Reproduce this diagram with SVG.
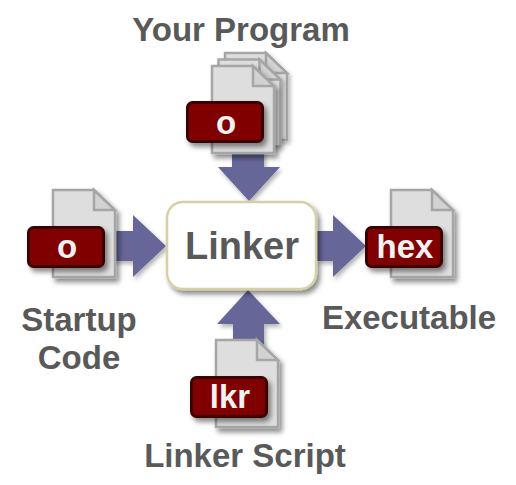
<svg xmlns="http://www.w3.org/2000/svg" xmlns:xlink="http://www.w3.org/1999/xlink" width="516" height="485" viewBox="0 0 516 485">
<style>
.doc{fill:#dedede;stroke:#a6a6a6;stroke-width:2.5;stroke-linejoin:miter}
.fold{fill:#d2d2d2;stroke:#a6a6a6;stroke-width:2.5}
.badge{fill:#800000;stroke:#3a0000;stroke-width:3}
.arrow{fill:#666699}
text{font-family:"Liberation Sans",Arial,sans-serif;font-weight:bold;text-anchor:middle}
.lbl{fill:#595959;font-size:33px}
.tag{fill:#f2f2f2;font-size:33px}
</style>
<defs>
<filter id="sh" x="-25%" y="-25%" width="160%" height="160%"><feDropShadow dx="3" dy="4" stdDeviation="2.5" flood-color="#000" flood-opacity=".45"/></filter>
<filter id="sh2" x="-25%" y="-25%" width="160%" height="160%"><feDropShadow dx="2" dy="3" stdDeviation="2" flood-color="#000" flood-opacity=".3"/></filter>
<g id="page"><path class="doc" d="M0 0H41L62 21V87H0Z"/><path class="fold" d="M41 0V20H62Z"/></g>
</defs>
<g id="connectors">
<path class="arrow" filter="url(#sh2)" d="M232 150H264V167H280L249 201L218 167H232Z"/>
<path class="arrow" filter="url(#sh2)" d="M110 231H133V215L166 246L133 277V261H110Z"/>
<path class="arrow" filter="url(#sh2)" d="M317 231H333V215L366 246L333 277V261H317Z"/>
<path class="arrow" filter="url(#sh2)" d="M233 345H264V324H280L248 290L217 324H233Z"/>
</g>
<g id="linker">
<rect x="167" y="202" width="149" height="87" rx="16" fill="#fff" stroke="#d6d0a8" stroke-width="2.5" filter="url(#sh)"/>
<text class="lbl" x="242" y="259" style="font-size:38px">Linker</text>
</g>
<g id="your-program">
<use xlink:href="#page" x="225" y="53" filter="url(#sh2)"/>
<use xlink:href="#page" x="218.500" y="59.500" filter="url(#sh2)"/>
<use xlink:href="#page" x="212" y="66" filter="url(#sh)"/>
<rect class="badge" x="187.500" y="102.500" width="75" height="39" rx="5" filter="url(#sh)"/>
<text class="tag" x="226" y="134">o</text>
<text class="lbl" x="241" y="41">Your Program</text>
</g>
<g id="startup-code">
<use xlink:href="#page" x="53" y="190" filter="url(#sh)"/>
<rect class="badge" x="28.500" y="227.500" width="75" height="39" rx="5" filter="url(#sh)"/>
<text class="tag" x="67" y="258">o</text>
<text class="lbl" x="79" y="331">Startup</text>
<text class="lbl" x="79" y="369">Code</text>
</g>
<g id="executable">
<use xlink:href="#page" x="391" y="190" filter="url(#sh)"/>
<rect class="badge" x="366.500" y="227.500" width="75" height="39" rx="5" filter="url(#sh)"/>
<text class="tag" x="405" y="258">hex</text>
<text class="lbl" x="409" y="329">Executable</text>
</g>
<g id="linker-script">
<use xlink:href="#page" x="216" y="340" filter="url(#sh)"/>
<rect class="badge" x="191.500" y="377.500" width="75" height="39" rx="5" filter="url(#sh)"/>
<text class="tag" x="230" y="408">lkr</text>
<text class="lbl" x="245" y="467">Linker Script</text>
</g>
</svg>
